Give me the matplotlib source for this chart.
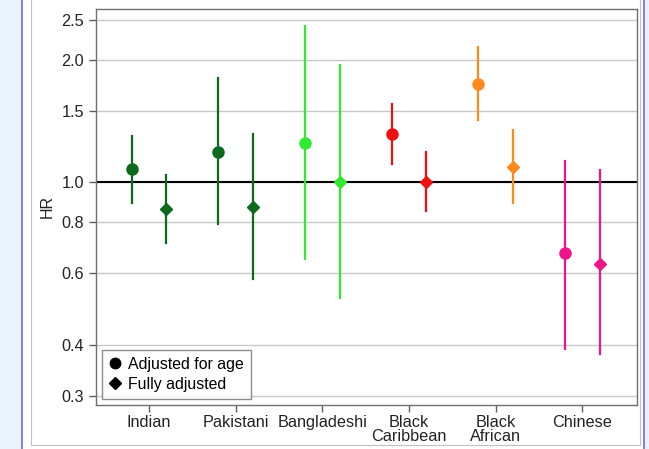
import matplotlib
matplotlib.use("Agg")
import matplotlib.pyplot as plt
from matplotlib.patches import Rectangle
from matplotlib.lines import Line2D
import numpy as np

categories = ['Indian', 'Pakistani', 'Bangladeshi', 'Black\nCaribbean', 'Black\nAfrican', 'Chinese']
colors = ['#0b6a1c', '#0b6a1c', '#33e833', '#ee1111', '#ff8a1c', '#f0148a']
age_hr = [1.08, 1.19, 1.25, 1.31, 1.74, 0.67]
age_lo = [0.89, 0.79, 0.65, 1.11, 1.42, 0.39]
age_hi = [1.30, 1.80, 2.41, 1.56, 2.15, 1.13]
full_hr = [0.86, 0.87, 1.00, 1.00, 1.09, 0.63]
full_lo = [0.71, 0.58, 0.52, 0.85, 0.89, 0.38]
full_hi = [1.04, 1.31, 1.94, 1.19, 1.34, 1.07]
yticks = [0.3, 0.4, 0.6, 0.8, 1.0, 1.5, 2.0, 2.5]
ytick_labels = ['0.3', '0.4', '0.6', '0.8', '1.0', '1.5', '2.0', '2.5']

plt.rcParams['font.family'] = ['Liberation Sans', 'DejaVu Sans']

W, H = 649, 449
fig = plt.figure(figsize=(W / 100, H / 100), dpi=100)
fig.patch.set_facecolor('white')

# page background decorations
fig.add_artist(Rectangle((0, 0), 21 / W, 1, transform=fig.transFigure,
                         facecolor='#e9f4fe', edgecolor='none', zorder=0))
fig.add_artist(Rectangle((644 / W, 0), 1 - 644 / W, 1, transform=fig.transFigure,
                         facecolor='#e9f4fe', edgecolor='none', zorder=0))
fig.add_artist(Line2D([21.5 / W, 21.5 / W], [0, 1], transform=fig.transFigure,
                      color='#6a6ae0', lw=1.2, zorder=1))
fig.add_artist(Line2D([643.5 / W, 643.5 / W], [0, 1], transform=fig.transFigure,
                      color='#6a6ae0', lw=1.2, zorder=1))
fig.add_artist(Rectangle((31 / W, (H - 445) / H), (640 - 31) / W, 1.2,
                         transform=fig.transFigure, facecolor='none',
                         edgecolor='#c0c0c0', lw=0.8, zorder=1))

ax = fig.add_axes([96 / W, (H - 405) / H, (637 - 96) / W, (405 - 9) / H])
ax.set_yscale('log')
ax.set_ylim(0.2846, 2.66)
x = np.arange(1, len(categories) + 1)
ax.set_xlim(0.39, 6.63)

for yt in yticks:
    ax.axhline(yt, color='#c8c8c8', lw=1.0, zorder=1)
ax.axhline(1.0, color='black', lw=1.5, zorder=2)

for i, xi in enumerate(x):
    c = colors[i]
    ax.plot([xi - 0.2, xi - 0.2], [age_lo[i], age_hi[i]], color=c, lw=1.6, zorder=3)
    ax.plot(xi - 0.2, age_hr[i], marker='o', ms=8, color=c, mec=c, zorder=4)
    ax.plot([xi + 0.2, xi + 0.2], [full_lo[i], full_hi[i]], color=c, lw=1.6, zorder=3)
    ax.plot(xi + 0.2, full_hr[i], marker='D', ms=6.5, color=c, mec=c, zorder=4)

ax.set_yticks(yticks)
ax.set_yticklabels(ytick_labels)
ax.yaxis.set_minor_locator(matplotlib.ticker.NullLocator())
ax.set_xticks(x)
ax.set_xticklabels(categories, linespacing=0.85)
ax.tick_params(axis='both', labelsize=11.7, color='#606060', length=5, width=1,
               labelcolor='#222222')
ax.tick_params(axis='x', pad=2.5)
for s in ax.spines.values():
    s.set_color('#707070')
    s.set_linewidth(1.0)
ax.set_ylabel('HR', fontsize=11.5, color='#222222', labelpad=5)

handles = [Line2D([], [], marker='o', color='black', ls='none', ms=7.5),
           Line2D([], [], marker='D', color='black', ls='none', ms=6)]
leg = ax.legend(handles, ['Adjusted for age', 'Fully adjusted'], loc='lower left',
                bbox_to_anchor=(0.005, 0.008), fontsize=11.4, frameon=True,
                fancybox=False, edgecolor='#707070', handlelength=0.7,
                handletextpad=0.5, borderpad=0.45, labelspacing=0.3,
                borderaxespad=0.2)
leg.get_frame().set_linewidth(1.0)
leg.set_zorder(5)

fig.savefig('out.png', dpi=100)
